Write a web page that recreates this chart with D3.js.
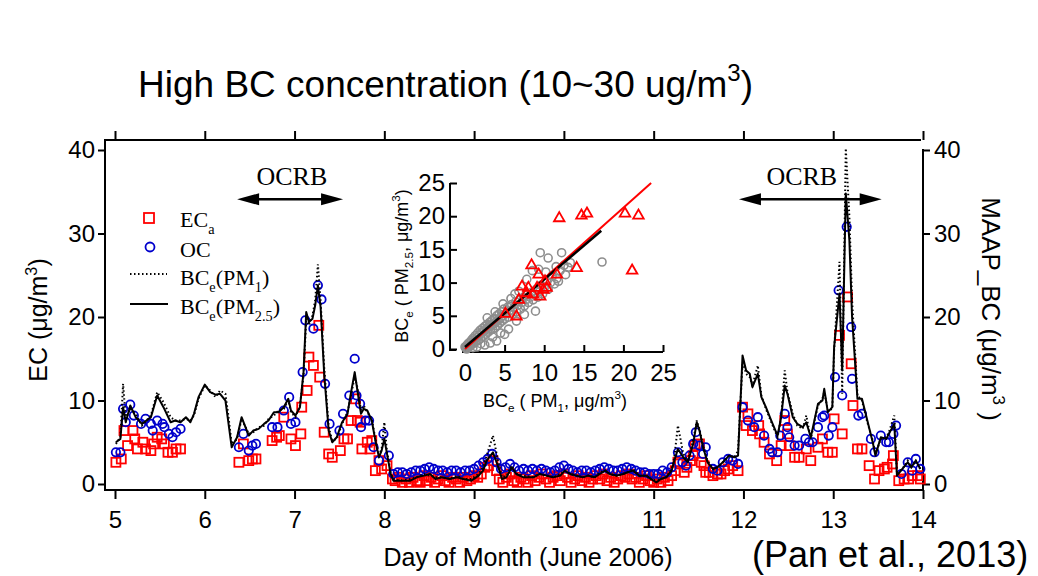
<!DOCTYPE html>
<html lang="en">
<head>
<meta charset="utf-8">
<title>High BC concentration</title>
<script src="https://cdn.jsdelivr.net/npm/d3@7"></script>
<style>
  body { margin: 0; background: #fff; }
  svg text { font-family: "Liberation Sans", Arial, sans-serif; }
  .serif { font-family: "Liberation Serif", "Times New Roman", serif !important; }
</style>
</head>
<body>
<svg id="chart" width="1038" height="576"></svg>
<script>
// ---- data ----
var dayTicks = [5, 6, 7, 8, 9, 10, 11, 12, 13, 14];
var yTicks = [0, 10, 20, 30, 40];
var insetTicks = [0, 5, 10, 15, 20, 25];

// BC_e time base (day of month) with PM2.5 (solid) and PM1 (dotted)
var bcDays = [5.01,5.06,5.09,5.12,5.17,5.23,5.30,5.40,5.47,5.54,5.62,5.67,5.73,5.79,5.84,5.88,5.93,6.00,6.06,6.12,
  6.17,6.23,6.26,6.30,6.36,6.41,6.49,6.54,6.60,6.66,6.71,6.77,6.82,6.88,6.93,6.96,7.01,7.06,7.10,7.13,
  7.16,7.20,7.23,7.26,7.29,7.33,7.38,7.42,7.47,7.53,7.59,7.62,7.67,7.70,7.74,7.77,7.81,7.86,7.90,7.94,
  7.97,8.00,8.03,8.07,8.10,8.18,8.29,8.36,8.44,8.51,8.57,8.64,8.73,8.81,8.88,8.97,9.05,9.10,9.14,9.21,
  9.27,9.31,9.36,9.42,9.47,9.55,9.66,9.73,9.81,9.88,9.96,10.01,10.07,10.14,10.21,10.27,10.34,10.40,10.46,10.51,
  10.59,10.66,10.71,10.77,10.84,10.92,10.97,11.03,11.08,11.14,11.20,11.23,11.27,11.33,11.38,11.44,11.48,11.51,11.55,11.60,
  11.66,11.71,11.77,11.84,11.90,11.94,11.99,12.03,12.07,12.10,12.16,12.20,12.25,12.31,12.38,12.42,12.46,12.49,12.55,12.60,
  12.66,12.70,12.75,12.83,12.88,12.90,12.94,12.99,13.01,13.07,13.10,13.14,13.18,13.21,13.27,13.32,13.38,13.44,13.47,13.53,
  13.59,13.62,13.68,13.71,13.77,13.83,13.87,13.92,13.97];
var bcPM25 = [5.0,5.4,9.2,7.4,9.4,8.0,7.2,8.0,10.6,9.2,7.4,7.6,7.4,8.0,7.4,8.4,10.4,11.9,11.0,10.7,
  10.8,10.0,7.6,4.4,5.6,8.0,5.8,6.4,6.6,7.2,7.6,8.6,8.6,9.2,10.2,8.8,8.2,9.2,13.4,20.6,
  19.4,19.8,21.4,23.8,21.2,13.2,6.4,5.0,5.6,7.4,8.4,10.4,13.4,11.2,8.4,9.0,8.8,7.6,5.2,3.2,
  4.0,5.4,3.6,1.2,0.4,0.4,0.4,0.8,1.0,1.2,0.6,0.8,0.6,0.8,0.6,0.4,1.0,1.6,2.8,3.8,
  2.0,0.6,0.8,2.0,1.2,0.8,0.8,1.2,1.0,0.8,1.0,1.6,1.2,1.0,0.8,1.0,0.8,1.2,1.6,1.2,
  1.0,1.2,1.4,1.6,1.0,1.0,0.6,0.2,0.6,0.8,1.6,2.8,4.2,3.2,2.6,4.8,7.4,6.4,4.4,2.6,
  1.8,2.0,2.6,3.4,3.2,3.4,15.4,13.6,13.2,11.6,13.2,10.4,9.2,7.6,5.8,8.0,11.8,10.8,8.0,7.2,
  6.8,7.4,5.6,9.6,10.0,11.4,8.6,9.2,16.4,22.8,13.6,34.8,29.2,20.0,10.2,10.2,7.6,5.0,3.4,5.6,
  5.4,6.0,7.2,1.0,1.8,2.6,2.0,2.8,1.8];
var bcPM1 = [4.8,5.6,12.0,7.8,9.0,8.4,7.0,8.2,11.0,9.8,8.0,7.6,7.6,7.8,7.6,8.2,10.2,11.8,11.2,10.4,
  11.2,10.8,8.4,4.8,5.4,7.8,6.0,6.2,6.8,7.0,7.8,8.2,8.8,9.0,10.0,8.6,8.0,9.4,13.0,19.8,
  19.0,20.2,22.0,26.3,22.0,14.0,6.8,5.2,5.4,7.2,8.6,10.2,12.8,11.6,8.8,9.4,8.6,7.8,5.4,3.4,
  4.2,7.4,3.8,1.4,0.6,0.4,0.6,0.8,1.2,1.0,0.8,0.8,0.6,1.0,0.6,0.6,1.2,2.0,3.4,5.8,
  2.6,0.8,1.0,2.2,1.2,1.0,0.8,1.2,1.0,0.8,1.2,1.6,1.2,1.0,0.8,1.0,0.8,1.4,1.6,1.2,
  1.0,1.2,1.4,1.8,1.0,1.0,0.6,0.4,0.6,0.8,1.8,3.2,7.0,3.6,2.8,5.2,7.6,6.6,4.6,2.8,
  1.8,2.0,2.6,3.4,3.2,4.0,14.6,13.2,12.8,11.8,14.2,10.6,9.0,7.4,5.6,8.0,13.6,11.0,8.4,7.0,
  6.6,8.2,5.4,9.4,10.2,11.0,8.8,9.0,16.0,26.6,10.8,40.2,32.0,22.0,10.6,10.0,7.4,5.2,3.6,5.4,
  5.6,6.2,8.2,1.2,1.8,2.8,2.0,2.8,1.8];

// EC_a (red squares): [day, ug/m3]
var ecPoints = [[5.01,2.6],[5.07,3.0],[5.10,6.4],[5.14,4.6],[5.20,6.4],[5.22,5.4],[5.25,4.2],[5.31,5.0],[5.34,4.2],[5.40,4.0],
  [5.43,4.8],[5.47,5.6],[5.52,5.4],[5.55,4.8],[5.59,3.8],[5.64,3.8],[5.68,4.2],[5.73,4.2],
  [6.38,2.6],[6.43,4.8],[6.49,2.8],[6.53,3.0],[6.57,3.0],
  [6.75,5.2],[6.80,5.6],[6.83,5.8],[6.88,8.0],[6.96,5.4],[7.01,4.6],[7.07,6.0],[7.08,9.2],[7.14,11.2],[7.16,15.2],[7.21,14.2],
  [7.27,19.0],[7.28,12.8],[7.33,6.2],[7.38,3.6],[7.42,3.2],[7.51,4.0],[7.55,5.4],[7.59,5.4],[7.63,7.6],[7.68,10.2],
  [7.70,7.6],[7.73,7.4],[7.75,4.2],[7.81,5.0],[7.84,4.2],[7.86,5.2],[7.90,1.6],[7.94,2.8],[7.97,1.8],[8.03,2.2],[8.09,0.6],
  [8.12,0.4],[8.16,0.8],[8.20,0.2],[8.24,0.6],[8.28,0.2],[8.32,0.8],[8.36,0.4],[8.40,0.2],[8.44,1.0],[8.48,0.4],
  [8.52,0.8],[8.56,0.2],[8.60,0.6],[8.64,1.0],[8.68,0.4],[8.72,0.2],[8.76,0.8],[8.80,0.6],[8.84,0.2],[8.88,0.8],
  [8.92,0.4],[8.96,0.6],[9.00,1.0],[9.04,0.8],[9.08,1.2],[9.12,2.0],[9.16,2.2],[9.21,2.8],[9.25,1.6],[9.28,0.6],
  [9.32,0.2],[9.36,0.8],[9.40,1.2],[9.44,0.4],[9.48,0.2],[9.52,0.8],[9.56,0.6],[9.60,0.2],[9.64,1.0],[9.68,0.4],
  [9.72,0.8],[9.76,1.2],[9.80,0.6],[9.84,0.2],[9.88,0.8],[9.92,1.0],[9.96,0.4],[10.00,1.2],[10.04,0.8],[10.08,0.2],
  [10.12,0.6],[10.16,1.0],[10.20,0.4],[10.24,0.8],[10.28,0.2],[10.32,0.6],[10.36,1.0],[10.40,0.6],[10.44,1.2],[10.48,0.4],
  [10.52,0.8],[10.56,0.2],[10.60,0.6],[10.64,1.0],[10.68,0.8],[10.72,1.2],[10.76,0.6],[10.80,0.8],[10.84,0.2],[10.88,0.6],
  [10.92,1.0],[10.96,0.4],[11.00,0.2],[11.04,0.6],[11.08,0.2],[11.12,0.8],[11.16,0.4],[11.20,1.0],
  [11.24,1.6],[11.27,2.6],[11.29,2.4],[11.34,1.4],[11.37,2.0],[11.41,2.8],[11.44,3.4],[11.46,4.6],[11.51,4.8],[11.53,2.6],
  [11.56,2.2],[11.58,1.4],[11.62,1.4],[11.66,1.0],[11.71,1.2],[11.75,1.2],[11.79,1.6],[11.83,1.8],[11.88,2.2],[11.94,1.6],
  [11.99,9.2],[12.03,7.0],[12.05,8.4],[12.10,6.4],[12.17,7.0],[12.18,6.0],[12.23,5.0],[12.29,3.6],[12.37,2.8],[12.42,4.6],
  [12.46,7.6],[12.49,6.0],[12.51,4.6],[12.57,3.2],[12.62,3.2],[12.70,4.2],[12.75,2.8],[12.83,4.4],[12.88,5.4],[12.94,3.8],
  [12.99,3.8],[13.01,7.8],[13.07,17.8],[13.10,6.0],[13.16,22.4],[13.20,14.4],[13.22,9.4],[13.27,4.2],[13.32,4.2],[13.40,2.2],
  [13.46,0.6],[13.51,1.6],[13.57,1.8],[13.60,2.0],[13.66,2.4],[13.67,3.4],[13.73,0.4],[13.79,0.6],[13.84,0.6],[13.88,1.0],
  [13.94,1.0],[13.97,0.6]];

// OC (blue circles): [day, ug/m3]
var ocPoints = [[5.01,3.8],[5.06,3.8],[5.09,9.0],[5.12,7.4],[5.17,9.5],[5.21,8.2],[5.29,7.2],[5.34,7.8],[5.40,7.2],[5.42,6.4],
  [5.47,7.6],[5.53,7.2],[5.55,6.8],[5.60,6.0],[5.64,5.6],[5.68,6.2],[5.73,6.6],
  [6.38,4.4],[6.43,6.0],[6.49,4.0],[6.53,4.6],[6.57,4.8],
  [6.75,6.8],[6.81,6.8],[6.88,8.8],[6.94,10.4],[6.96,7.2],[7.01,7.4],[7.09,13.4],[7.12,19.6],[7.21,18.6],[7.26,23.8],
  [7.30,22.1],[7.34,12.0],[7.39,7.2],[7.50,6.4],[7.54,8.4],[7.61,10.6],[7.67,15.0],[7.69,10.6],[7.73,9.6],[7.74,6.8],
  [7.79,7.6],[7.83,7.6],[7.88,4.4],[7.94,2.8],[7.99,6.0],[8.05,3.4],[8.10,1.2],
  [8.15,1.4],[8.20,1.4],[8.25,1.2],[8.30,1.4],[8.35,1.6],[8.40,1.6],[8.45,1.8],[8.50,2.0],[8.55,1.8],[8.60,1.6],
  [8.65,1.6],[8.70,1.4],[8.75,1.6],[8.80,1.6],[8.85,1.4],[8.90,1.6],[8.95,1.6],[9.00,1.8],[9.05,2.2],[9.10,2.6],
  [9.15,3.0],[9.20,3.6],[9.25,2.6],[9.30,1.8],[9.35,2.0],[9.40,2.4],[9.45,2.0],[9.50,1.6],[9.55,1.8],[9.60,1.6],
  [9.65,1.8],[9.70,1.6],[9.75,1.8],[9.80,1.6],[9.85,1.4],[9.90,1.6],[9.95,2.0],[10.00,2.2],[10.05,1.8],[10.10,1.6],
  [10.15,1.4],[10.20,1.6],[10.25,1.6],[10.30,1.4],[10.35,1.6],[10.40,1.8],[10.45,2.0],[10.50,1.8],[10.55,1.6],[10.60,1.6],
  [10.65,1.8],[10.70,2.0],[10.75,1.8],[10.80,1.6],[10.85,1.4],[10.90,1.4],[10.95,1.2],[11.00,1.2],[11.05,1.2],[11.10,1.6],
  [11.15,1.4],[11.20,2.0],[11.27,3.8],[11.32,2.6],[11.36,2.2],[11.40,3.4],[11.44,4.8],[11.47,6.2],[11.51,4.6],[11.55,3.6],
  [11.58,4.4],[11.66,1.8],[11.71,1.6],[11.77,2.6],[11.83,3.0],[11.88,2.8],[11.94,2.4],[11.99,9.2],[12.05,7.6],[12.12,6.8],
  [12.16,8.0],[12.23,5.8],[12.29,4.2],[12.32,3.8],[12.38,3.8],[12.41,5.8],[12.46,8.4],[12.49,6.8],[12.51,5.6],[12.57,4.6],
  [12.62,4.6],[12.69,5.4],[12.73,5.0],[12.77,5.0],[12.83,6.8],[12.88,8.0],[12.90,8.2],[12.95,5.8],[12.99,6.8],[13.02,12.8],
  [13.06,23.2],[13.10,10.6],[13.15,30.8],[13.20,18.8],[13.21,12.6],[13.28,8.2],[13.32,8.4],[13.42,5.4],[13.46,3.8],[13.53,5.8],
  [13.59,5.0],[13.62,5.0],[13.67,6.0],[13.70,7.0],[13.76,1.2],[13.83,2.6],[13.88,1.6],[13.92,3.0],[13.97,1.8]];

// inset: BC_e(PM1) vs BC_e(PM2.5)
var insetGray = [[0.1,0.2],[0.2,0.5],[0.3,0.1],[0.4,0.8],[0.5,0.3],[0.6,1.0],[0.7,0.5],[0.8,1.3],[0.9,0.7],[1.0,1.6],
  [1.1,0.9],[1.2,1.4],[1.3,2.0],[1.4,1.1],[1.5,1.7],[1.6,2.4],[1.7,1.3],[1.8,2.1],[1.9,2.8],[2.0,1.6],
  [2.1,2.5],[2.2,3.1],[2.3,1.9],[2.4,2.7],[2.5,3.4],[2.6,2.2],[2.7,3.0],[2.8,3.7],[2.9,2.5],[3.0,3.3],
  [3.1,4.0],[3.2,2.8],[3.3,3.5],[3.4,4.3],[3.5,3.0],[3.6,3.8],[3.7,4.6],[3.8,3.2],[3.9,4.1],[4.0,5.0],
  [4.1,3.5],[4.2,4.4],[4.3,5.3],[4.4,3.9],[4.5,4.7],[4.6,5.6],[4.7,4.2],[4.8,5.0],[4.9,6.0],[5.0,4.5],
  [5.2,5.4],[5.4,6.3],[5.5,4.8],[5.7,5.8],[5.9,6.7],[6.0,5.2],[6.2,6.2],[6.4,7.1],[6.5,5.6],[6.7,6.6],
  [6.9,7.4],[7.0,6.0],[7.2,7.0],[7.4,7.8],[7.5,6.5],[7.7,7.4],[7.9,8.2],[8.0,7.0],[8.2,7.8],[8.4,8.5],
  [8.6,7.4],[8.8,8.2],[9.0,9.0],[9.2,7.8],[9.4,8.6],[9.6,9.6],[9.8,8.3],[10.0,9.2],[10.3,10.2],[10.5,9.0],
  [10.8,10.0],[11.0,11.0],[11.3,9.8],[11.6,10.6],[12.0,11.8],[12.5,12.6],[13.0,12.3],[13.3,13.0],[12.2,14.5],[9.5,14.5],
  [10.5,13.7],[17.3,13.1],[8.9,5.7],[4.0,1.2],[3.2,0.9],[2.5,0.6],[1.5,0.3],[5.5,3.0],[6.5,4.2],[4.5,2.4],
  [7.5,5.2],[8.5,11.8],[9.3,12.0],[7.8,10.5],[6.8,8.7],[5.8,7.6],[4.8,6.8],[3.8,5.6],[2.8,4.7],[6.3,8.3],
  [3.5,1.8],[2.0,0.8],[5.0,2.2],[1.0,0.2],[0.5,0.9],[0.3,0.6],[0.2,0.0],[0.0,0.3],[11.8,10.2],[12.7,11.2],
  [10.2,11.6],[11.5,12.4]];
var insetRed = [[11.9,19.7],[14.7,20.1],[15.4,20.4],[20.2,20.4],[21.9,20.1],[14.1,12.2],[21.1,11.8],[8.4,12.6],[9.3,11.2],[11.6,11.2],
  [7.2,9.4],[8.0,9.2],[9.1,9.2],[9.9,8.9],[10.3,9.2],[8.6,8.2],[9.5,7.9],[6.8,7.4],[5.1,5.3],[6.5,4.9],
  [7.8,8.4],[10.1,10.2]];
var redFit = [[0, 0], [23.5, 25]];
var blackFit = [[0, 0.3], [17.2, 17.8]];

// OCRB annotation spans (days) and label centres
var ocrbSpans = [[6.36, 7.54], [11.95, 13.54]];
var ocrbLabels = [6.97, 12.65];

// ---- drawing ----
var svg = d3.select("#chart");
var x = d3.scaleLinear().domain([5, 14]).range([115, 923]);
var y = d3.scaleLinear().domain([0, 40]).range([484, 150]);

function rich(sel, parts, size) {
  var shift = 0;
  parts.forEach(function(p) {
    var str = typeof p === "string" ? p : p[0];
    var kind = typeof p === "string" ? "n" : p[1];
    var target = kind === "sub" ? size * 0.3 : kind === "sup" ? -size * 0.42 : 0;
    var t = sel.append("tspan").attr("dy", target - shift).text(str);
    if (kind !== "n") t.attr("font-size", size * 0.65);
    shift = target;
  });
}

function styleAxis(g, size) {
  g.attr("font-size", size).attr("font-family", "Liberation Sans, Arial, sans-serif");
  g.select(".domain").remove();
  g.selectAll(".tick line").attr("stroke-width", 2);
  g.selectAll(".tick text").attr("fill", "#000");
}

// frame
var frame = svg.append("g").attr("stroke", "#000").attr("stroke-width", 2);
frame.append("line").attr("x1", 105).attr("x2", 921).attr("y1", 140).attr("y2", 140);
frame.append("line").attr("x1", 105).attr("x2", 923).attr("y1", 490).attr("y2", 490);
frame.append("line").attr("x1", 105).attr("x2", 105).attr("y1", 139).attr("y2", 491);
frame.append("line").attr("x1", 923).attr("x2", 923).attr("y1", 149).attr("y2", 491);

svg.append("g").attr("transform", "translate(105,0)")
  .call(d3.axisLeft(y).tickValues(yTicks).tickSize(7).tickPadding(3))
  .call(styleAxis, 24);
svg.append("g").attr("transform", "translate(923,0)")
  .call(d3.axisRight(y).tickValues(yTicks).tickSize(7).tickPadding(4))
  .call(styleAxis, 24);
svg.append("g").attr("transform", "translate(0,490)")
  .call(d3.axisBottom(x).tickValues(dayTicks).tickSize(9).tickPadding(12))
  .call(styleAxis, 24);
svg.append("g").attr("transform", "translate(0,140)")
  .call(d3.axisTop(x).tickValues(dayTicks).tickSize(9).tickFormat(""))
  .call(styleAxis, 24);

// markers
svg.append("g").selectAll("rect").data(ecPoints).join("rect")
  .attr("x", function(d) { return x(d[0]) - 4.5; })
  .attr("y", function(d) { return y(d[1]) - 4.5; })
  .attr("width", 9).attr("height", 9)
  .attr("fill", "none").attr("stroke", "#ff0000").attr("stroke-width", 1.8);

svg.append("g").selectAll("circle").data(ocPoints).join("circle")
  .attr("cx", function(d) { return x(d[0]); })
  .attr("cy", function(d) { return y(d[1]); })
  .attr("r", 4.2)
  .attr("fill", "none").attr("stroke", "#0000cc").attr("stroke-width", 1.8);

var line = d3.line().x(function(d) { return x(d[0]); }).y(function(d) { return y(d[1]); });
svg.append("path")
  .attr("d", line(bcDays.map(function(d, i) { return [d, bcPM1[i]]; })))
  .attr("fill", "none").attr("stroke", "#000").attr("stroke-width", 2)
  .attr("stroke-dasharray", "1.5,2.5");
svg.append("path")
  .attr("d", line(bcDays.map(function(d, i) { return [d, bcPM25[i]]; })))
  .attr("fill", "none").attr("stroke", "#000").attr("stroke-width", 2)
  .attr("stroke-linejoin", "round");

// OCRB arrows
var arrowY = y(34.1);
ocrbSpans.forEach(function(s, i) {
  var x1 = x(s[0]), x2 = x(s[1]);
  svg.append("line").attr("x1", x1 + 10).attr("x2", x2 - 10)
    .attr("y1", arrowY).attr("y2", arrowY).attr("stroke", "#000").attr("stroke-width", 2.5);
  svg.append("path").attr("d", "M" + x1 + "," + arrowY + "l22,-6v12z").attr("fill", "#000");
  svg.append("path").attr("d", "M" + x2 + "," + arrowY + "l-22,-6v12z").attr("fill", "#000");
  svg.append("text").attr("class", "serif").attr("x", x(ocrbLabels[i])).attr("y", y(35.8))
    .attr("text-anchor", "middle").attr("font-size", 26).text("OCRB");
});

// legend
var lg = svg.append("g");
lg.append("rect").attr("x", 144).attr("y", 213).attr("width", 10).attr("height", 10)
  .attr("fill", "none").attr("stroke", "#ff0000").attr("stroke-width", 1.8);
lg.append("circle").attr("cx", 150).attr("cy", 247).attr("r", 4.5)
  .attr("fill", "none").attr("stroke", "#0000cc").attr("stroke-width", 1.8);
lg.append("line").attr("x1", 130).attr("x2", 167).attr("y1", 274).attr("y2", 274)
  .attr("stroke", "#000").attr("stroke-width", 2).attr("stroke-dasharray", "1.5,2.5");
lg.append("line").attr("x1", 130).attr("x2", 168).attr("y1", 304).attr("y2", 304)
  .attr("stroke", "#000").attr("stroke-width", 2);
rich(lg.append("text").attr("class", "serif").attr("x", 180).attr("y", 227).attr("font-size", 22), ["EC", ["a", "sub"]], 22);
rich(lg.append("text").attr("class", "serif").attr("x", 180).attr("y", 257).attr("font-size", 22), ["OC"], 22);
rich(lg.append("text").attr("class", "serif").attr("x", 180).attr("y", 285).attr("font-size", 22), ["BC", ["e", "sub"], "(PM", ["1", "sub"], ")"], 22);
rich(lg.append("text").attr("class", "serif").attr("x", 180).attr("y", 314).attr("font-size", 22), ["BC", ["e", "sub"], "(PM", ["2.5", "sub"], ")"], 22);

// titles and axis labels
rich(svg.append("text").attr("x", 138).attr("y", 97).attr("font-size", 37),
  ["High BC concentration (10~30 ug/m", ["3", "sup"], ")"], 37);
svg.append("text").attr("x", 752).attr("y", 567).attr("font-size", 36).text("(Pan et al., 2013)");
svg.append("text").attr("x", 528).attr("y", 566).attr("font-size", 25).attr("text-anchor", "middle")
  .text("Day of Month (June 2006)");
rich(svg.append("text").attr("transform", "translate(47,320) rotate(-90)").attr("text-anchor", "middle").attr("font-size", 25),
  ["EC (\u03bcg/m", ["3", "sup"], ")"], 25);
rich(svg.append("text").attr("transform", "translate(982,309) rotate(90)").attr("text-anchor", "middle").attr("font-size", 26),
  ["MAAP_BC (\u03bcg/m", ["3", "sup"], " )"], 26);

// ---- inset scatter ----
var ix = d3.scaleLinear().domain([0, 25]).range([465, 663]);
var iy = d3.scaleLinear().domain([0, 25]).range([349, 183]);
var inset = svg.append("g");
inset.append("g").attr("transform", "translate(450,0)")
  .call(d3.axisLeft(iy).tickValues(insetTicks).tickSizeInner(-7).tickSizeOuter(0).tickPadding(5))
  .call(styleAxis, 24);
inset.append("g").attr("transform", "translate(0,352)")
  .call(d3.axisBottom(ix).tickValues(insetTicks).tickSizeInner(-7).tickSizeOuter(0).tickPadding(12))
  .call(styleAxis, 24);
inset.append("line").attr("x1", 450).attr("x2", 450).attr("y1", iy(25)).attr("y2", 351)
  .attr("stroke", "#000").attr("stroke-width", 2);
inset.append("line").attr("x1", 449).attr("x2", 456).attr("y1", 350).attr("y2", 350)
  .attr("stroke", "#000").attr("stroke-width", 2);
inset.append("line").attr("x1", 462).attr("x2", ix(25)).attr("y1", 352).attr("y2", 352)
  .attr("stroke", "#000").attr("stroke-width", 2);

inset.append("g").selectAll("circle").data(insetGray).join("circle")
  .attr("cx", function(d) { return ix(d[0]); })
  .attr("cy", function(d) { return iy(d[1]); })
  .attr("r", 4).attr("fill", "none").attr("stroke", "#8e8e8e").attr("stroke-width", 1.6);
inset.append("line")
  .attr("x1", ix(redFit[0][0])).attr("y1", iy(redFit[0][1]))
  .attr("x2", ix(redFit[1][0])).attr("y2", iy(redFit[1][1]))
  .attr("stroke", "#ff0000").attr("stroke-width", 2);
inset.append("line")
  .attr("x1", ix(blackFit[0][0])).attr("y1", iy(blackFit[0][1]))
  .attr("x2", ix(blackFit[1][0])).attr("y2", iy(blackFit[1][1]))
  .attr("stroke", "#000").attr("stroke-width", 2.5);
var tri = d3.symbol().type(d3.symbolTriangle).size(48);
inset.append("g").selectAll("path").data(insetRed).join("path")
  .attr("transform", function(d) { return "translate(" + ix(d[0]) + "," + iy(d[1]) + ")"; })
  .attr("d", tri).attr("fill", "none").attr("stroke", "#ff0000").attr("stroke-width", 1.8);

rich(inset.append("text").attr("x", 555).attr("y", 407).attr("text-anchor", "middle").attr("font-size", 18),
  ["BC", ["e", "sub"], " ( PM", ["1", "sub"], ", \u03bcg/m", ["3", "sup"], ")"], 18);
rich(inset.append("text").attr("transform", "translate(408,266) rotate(-90)").attr("text-anchor", "middle").attr("font-size", 18),
  ["BC", ["e", "sub"], " ( PM", ["2.5", "sub"], ", \u03bcg/m", ["3", "sup"], ")"], 18);
</script>
</body>
</html>
